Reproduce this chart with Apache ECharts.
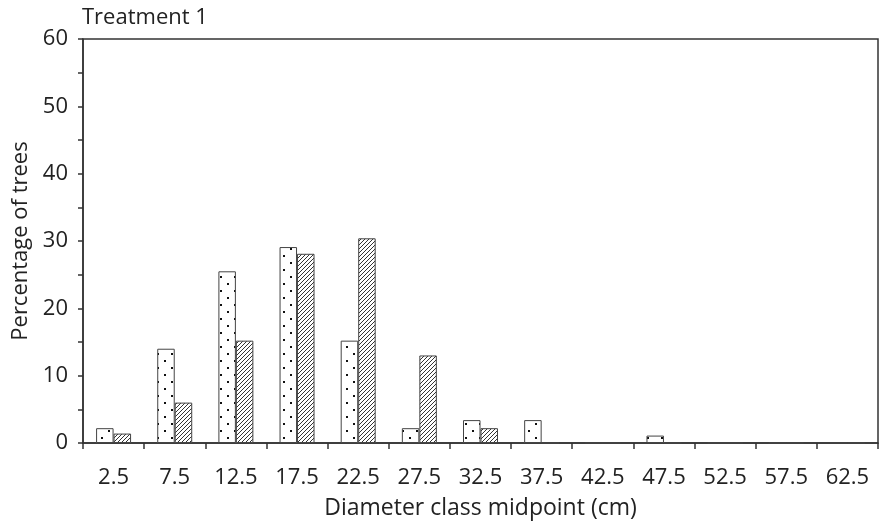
<!DOCTYPE html>
<html>
<head>
<meta charset="utf-8">
<script src="https://cdn.jsdelivr.net/npm/echarts@6/dist/echarts.min.js"></script>
<style>
  html, body { margin: 0; padding: 0; background: #fff; }
  #chart { width: 880px; height: 525px; }
</style>
</head>
<body>
<div id="chart"></div>
<script>
const categories = ['2.5', '7.5', '12.5', '17.5', '22.5', '27.5', '32.5', '37.5', '42.5', '47.5', '52.5', '57.5', '62.5'];
const dottedValues = [2.2, 14.0, 25.5, 29.1, 15.2, 2.2, 3.4, 3.4, 0, 1.1, 0, 0, 0];
const hatchedValues = [1.4, 6.0, 15.2, 28.1, 30.4, 13.0, 2.2, 0, 0, 0, 0, 0, 0];

function makeDots() {
  const c = document.createElement('canvas');
  c.width = 14;
  c.height = 14;
  const ctx = c.getContext('2d');
  ctx.fillStyle = '#fff';
  ctx.fillRect(0, 0, 14, 14);
  ctx.fillStyle = '#111';
  ctx.fillRect(3, 3, 2, 2);
  ctx.fillRect(10, 10, 2, 2);
  return c;
}

function makeHatch() {
  const c = document.createElement('canvas');
  c.width = 4;
  c.height = 4;
  const ctx = c.getContext('2d');
  ctx.fillStyle = '#fff';
  ctx.fillRect(0, 0, 4, 4);
  ctx.strokeStyle = '#333';
  ctx.lineWidth = 1;
  ctx.beginPath();
  ctx.moveTo(-1, 5);
  ctx.lineTo(5, -1);
  ctx.moveTo(-1, 1);
  ctx.lineTo(1, -1);
  ctx.moveTo(3, 5);
  ctx.lineTo(5, 3);
  ctx.stroke();
  return c;
}

const font = '"Open Sans", Lato, sans-serif';
const chart = echarts.init(document.getElementById('chart'), null, { renderer: 'canvas' });
chart.setOption({
  animation: false,
  title: {
    text: 'Treatment 1',
    left: 77,
    top: 2,
    textStyle: { fontFamily: font, fontSize: 22, fontWeight: 'normal', color: '#222' },
  },
  grid: {
    left: 83,
    right: 2,
    top: 39,
    bottom: 81,
    show: true,
    borderColor: '#333',
    borderWidth: 1.5,
  },
  xAxis: {
    type: 'category',
    data: categories,
    name: 'Diameter class midpoint (cm)',
    nameLocation: 'middle',
    nameGap: 54,
    nameTextStyle: { fontFamily: font, fontSize: 23, color: '#222' },
    axisLine: { lineStyle: { color: '#333', width: 1.5 } },
    axisTick: { show: true, length: 6, interval: 0, lineStyle: { color: '#333', width: 1.5 } },
    axisLabel: { interval: 0, margin: 24, fontFamily: font, fontSize: 22, color: '#222' },
  },
  yAxis: {
    type: 'value',
    min: 0,
    max: 60,
    interval: 5,
    name: 'Percentage of trees',
    nameLocation: 'middle',
    nameGap: 49,
    nameTextStyle: { fontFamily: font, fontSize: 22, color: '#222' },
    splitLine: { show: false },
    axisLine: { show: true, lineStyle: { color: '#333', width: 1.5 } },
    axisTick: { show: true, length: 5, lineStyle: { color: '#333', width: 1.5 } },
    axisLabel: {
      margin: 15,
      fontFamily: font,
      fontSize: 22,
      color: '#222',
      formatter: v => (v % 10 === 0 ? String(v) : ''),
    },
  },
  series: [
    {
      type: 'bar',
      data: dottedValues,
      barWidth: '28.6%',
      barGap: '0%',
      itemStyle: {
        color: { image: makeDots(), repeat: 'repeat' },
        borderColor: '#444',
        borderWidth: 1,
      },
    },
    {
      type: 'bar',
      data: hatchedValues,
      barWidth: '28.6%',
      barGap: '0%',
      itemStyle: {
        color: { image: makeHatch(), repeat: 'repeat' },
        borderColor: '#444',
        borderWidth: 1,
      },
    },
  ],
});
</script>
</body>
</html>
